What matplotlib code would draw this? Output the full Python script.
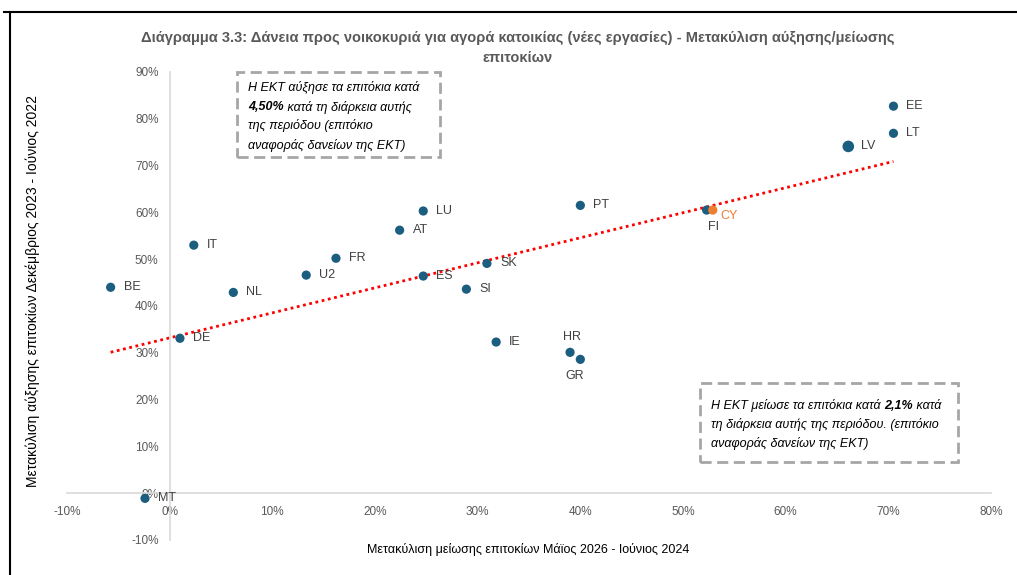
import numpy as np
import matplotlib
matplotlib.use("Agg")
import matplotlib.pyplot as plt
from matplotlib.patches import Rectangle
from matplotlib.lines import Line2D

plt.rcParams['font.family'] = ['Liberation Sans', 'DejaVu Sans']

# δεδομένα (σε %)
countries = ['BE', 'IT', 'NL', 'DE', 'U2', 'FR', 'AT', 'LU', 'ES', 'SI', 'SK',
             'IE', 'PT', 'HR', 'GR', 'FI', 'CY', 'LV', 'EE', 'LT', 'MT']
x_vals = [-5.75, 2.35, 6.2, 1.0, 13.3, 16.2, 22.4, 24.7, 24.7, 28.9, 30.9,
          31.8, 40.0, 39.0, 40.0, 52.3, 52.9, 66.1, 70.5, 70.5, -2.4]
y_vals = [44.0, 53.0, 42.9, 33.1, 46.6, 50.2, 56.2, 60.3, 46.4, 43.6, 49.1,
          32.3, 61.5, 30.1, 28.6, 60.5, 60.5, 74.1, 82.7, 76.9, -1.1]

x_ticks = [-10, 0, 10, 20, 30, 40, 50, 60, 70, 80]
y_ticks = [-10, 0, 10, 20, 30, 40, 50, 60, 70, 80, 90]

title = ("Διάγραμμα 3.3: Δάνεια προς νοικοκυριά για αγορά κατοικίας (νέες εργασίες) - "
         "Μετακύλιση αύξησης/μείωσης\nεπιτοκίων")
xlabel = "Μετακύλιση μείωσης επιτοκίων Μάϊος 2026 - Ιούνιος 2024"
ylabel = "Μετακύλιση αύξησης επιτοκίων Δεκέμβριος 2023 - Ιούνιος 2022"

box1 = [[("Η ΕΚΤ αύξησε τα επιτόκια κατά", False)],
        [("4,50%", True), (" κατά τη διάρκεια αυτής", False)],
        [("της περιόδου (επιτόκιο", False)],
        [("αναφοράς δανείων της ΕΚΤ)", False)]]
box2 = [[("Η ΕΚΤ μείωσε τα επιτόκια κατά ", False), ("2,1%", True), (" κατά", False)],
        [("τη διάρκεια αυτής της περιόδου. (επιτόκιο", False)],
        [("αναφοράς δανείων της ΕΚΤ)", False)]]

W, H = 1017, 575
dot_color = '#1B5E80'
cy_color = '#ED7D31'
lab_color = '#404040'
tick_color = '#595959'


def fx(px):
    return px / W


def fy(py):
    return 1 - py / H


fig = plt.figure(figsize=(W / 100, H / 100), dpi=100)
ax = fig.add_axes([fx(67), fy(540), fx(991) - fx(67), fy(72) - fy(540)])

# σημεία
colors = [cy_color if c == 'CY' else dot_color for c in countries]
sizes = [70 if c == 'LV' else 44 for c in countries]
ax.scatter(x_vals, y_vals, s=sizes, c=colors, zorder=3, linewidths=0)

# γραμμή τάσης
k, b = np.polyfit(x_vals, y_vals, 1)
xt = np.array([min(x_vals), max(x_vals)])
ax.plot(xt, k * xt + b, color='red', lw=2, linestyle=(0, (1, 1.3)), zorder=2)

# ετικέτες
special = {'FI': ((7, -17), 'center'), 'HR': ((2, 15), 'center'),
           'GR': ((-6, -17), 'center'), 'CY': ((8, -6), 'left')}
for c, xv, yv in zip(countries, x_vals, y_vals):
    off, ha = special.get(c, ((13, 0), 'left'))
    ax.annotate(c, (xv, yv), xytext=off, textcoords='offset pixels',
                ha=ha, va='center', fontsize=9,
                color=cy_color if c == 'CY' else lab_color)

ax.set_xlim(-10, 80)
ax.set_ylim(-10, 90)
ax.set_xticks(x_ticks)
ax.set_yticks(y_ticks)
ax.set_xticklabels(['%d%%' % v for v in x_ticks])
ax.set_yticklabels(['%d%%' % v for v in y_ticks])
ax.tick_params(length=0, labelsize=8.5, labelcolor=tick_color)
ax.tick_params(axis='x', pad=9)
ax.tick_params(axis='y', pad=8)
for s in ['top', 'right']:
    ax.spines[s].set_visible(False)
for s in ['left', 'bottom']:
    ax.spines[s].set_position(('data', 0))
    ax.spines[s].set_color('#D9D9D9')
    ax.spines[s].set_linewidth(1.2)
ax.patch.set_alpha(0)

fig.text(fx(518), fy(48), title, ha='center', va='center', fontsize=10.5,
         fontweight='bold', color=tick_color, linespacing=1.6)
fig.text(fx(528), fy(550), xlabel, ha='center', va='center', fontsize=9, color='black')
fig.text(fx(33), fy(291), ylabel, ha='center', va='center', fontsize=10,
         color='black', rotation=90)


def rich_lines(x0, y0, step, lines):
    for i, parts in enumerate(lines):
        t = None
        for s, bold in parts:
            kw = dict(fontsize=9, style='italic', color='black',
                      fontweight='bold' if bold else 'normal')
            if t is None:
                t = fig.text(fx(x0), fy(y0 + i * step), s, ha='left', va='center', **kw)
            else:
                t = ax.annotate(s, xy=(1, 0.5), xycoords=t, ha='left', va='center',
                                annotation_clip=False, **kw)


rich_lines(248, 88, 19, box1)
rich_lines(711, 406, 18.5, box2)

for x0, y0, x1, y1 in [(237, 72, 440, 157), (700, 383, 958, 462)]:
    fig.patches.append(Rectangle((fx(x0), fy(y1)), fx(x1) - fx(x0), fy(y0) - fy(y1),
                                 transform=fig.transFigure, fill=False,
                                 ec='#A6A6A6', lw=2, ls=(0, (4, 2))))

# πλαίσιο
fig.add_artist(Line2D([fx(4), 1], [fy(11.5), fy(11.5)], color='black', lw=1.5))
fig.add_artist(Line2D([fx(10), fx(10)], [0, fy(11.5)], color='black', lw=1.5))

fig.savefig('out.png', dpi=100)
